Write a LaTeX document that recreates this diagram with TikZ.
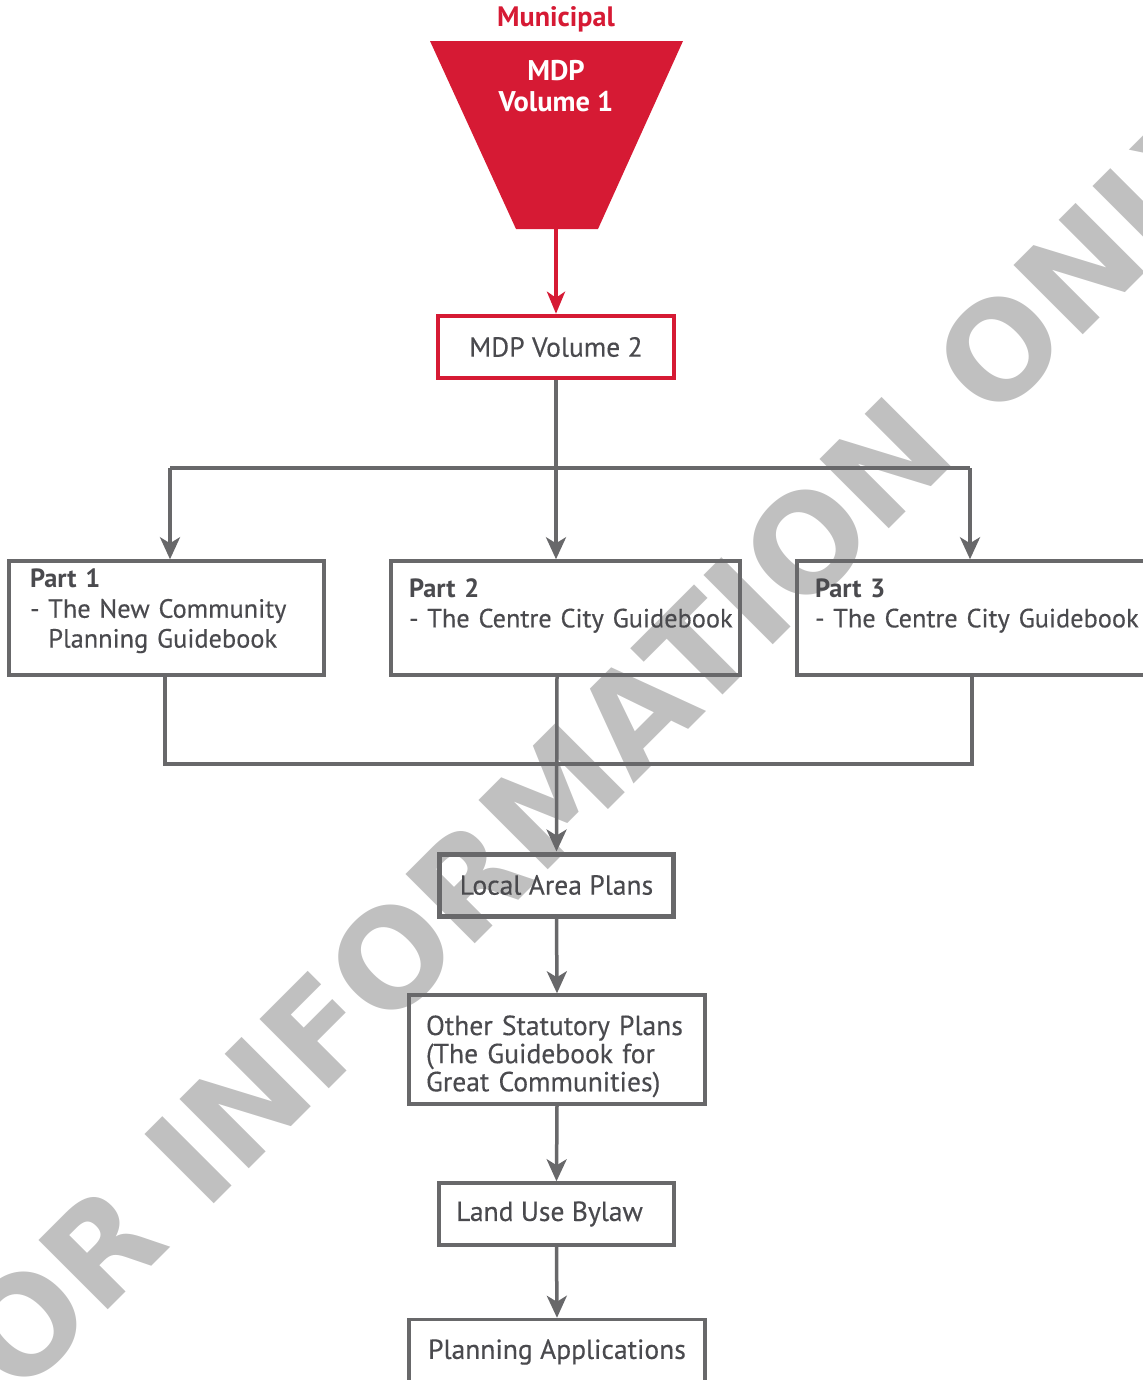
\documentclass[tikz,border=0pt]{standalone}
\usepackage{fontspec}
\setmainfont{PT Sans}[UprightFeatures={FakeBold=0.35}]
\newfontfamily\wmfont{DejaVu Sans}
\usepackage{xcolor}
\usetikzlibrary{arrows.meta,positioning}
\definecolor{mdpred}{RGB}{214,26,52}
\definecolor{linegrey}{RGB}{104,104,106}
\definecolor{textgrey}{RGB}{74,74,78}
\definecolor{wmgrey}{RGB}{192,192,192}

\begin{document}
\begin{tikzpicture}[
    x=0.02cm, y=-0.02cm,
    box/.style={draw=linegrey, line width=0.07cm, text=textgrey, inner sep=0pt, align=center, minimum height=1.24cm, font=\fontsize{15.7}{16}\selectfont},
    partbox/.style={box, minimum height=2.28cm, align=left, font=\fontsize{15}{17}\selectfont},
    redbox/.style={box, draw=mdpred, line width=0.09cm},
    wmark/.style={text=wmgrey, inner sep=0pt, font=\wmfont\bfseries\fontsize{76.5}{80}\selectfont},
    conn/.style={draw=linegrey, line width=0.07cm},
    arrow/.style={conn, -{Stealth[length=0.44cm, width=0.4cm, inset=0.12cm]}},
    redarrow/.style={draw=mdpred, line width=0.08cm, -{Stealth[length=0.44cm, width=0.36cm, inset=0.12cm]}}
]
\clip (0,0) rectangle (1143,1380);

\node[wmark, rotate=45, anchor=base] (watermark) at (611,807) {FOR INFORMATION ONLY};

\node[text=mdpred, font=\bfseries\fontsize{16}{18}\selectfont] (municipal) at (556,19) {Municipal};
\fill[mdpred] (430,41) -- (683,41) -- (598,229) -- (516,229) -- cycle;
\coordinate (vol1tip) at (556,229);
\node[text=white, align=center, font=\bfseries\fontsize{16.2}{18}\selectfont] (vol1) at (556,86) {MDP\\Volume 1};

\node[redbox, minimum width=4.72cm] (vol2) at (556,347) {MDP Volume 2};

\node[partbox, minimum width=6.3cm, text width=5.46cm] (part1) at (166.5,618) {\textbf{Part 1}\\- The New Community\\\hphantom{- }Planning Guidebook\\[-6pt]\mbox{}};
\node[partbox, minimum width=6.98cm, text width=6.26cm] (part2) at (565.5,618) {\textbf{Part 2}\\\mbox{- The Centre City Guidebook}\\\mbox{}};
\node[partbox, minimum width=6.98cm, text width=6.26cm] (part3) at (971.5,618) {\textbf{Part 3}\\\mbox{- The Centre City Guidebook}\\\mbox{}};

\node[box, line width=0.1cm, minimum width=4.7cm] (local) at (556.5,885) {Local Area Plans};
\node[box, minimum width=5.92cm, minimum height=2.18cm, align=left, text width=5.24cm] (other) at (557,1049.5) {\mbox{}\\[3pt]Other Statutory Plans\\(The Guidebook for\\Great Communities)};
\node[box, minimum width=4.7cm] (bylaw) at (556.5,1214) {Land Use Bylaw\hspace*{0.28cm}};
\node[box, minimum width=5.92cm, minimum height=1.3cm] (apps) at (557,1352) {Planning Applications};

\coordinate (busL) at (170,468);
\coordinate (busM) at (556,468);
\coordinate (busR) at (970,468);
\coordinate (lowL) at (165,764);
\coordinate (lowM) at (557,764);
\coordinate (lowR) at (972,764);

\draw[redarrow] (vol1tip) -- (vol2.north);
\draw[conn] (vol2.south) -- (busM);
\draw[conn] (busL) -- (busR);
\draw[arrow] (busL) -- (busL |- part1.north);
\draw[arrow] (busM) -- (busM |- part2.north);
\draw[arrow] (busR) -- (busR |- part3.north);
\draw[conn] (lowL |- part1.south) -- (lowL) -- (lowR) -- (lowR |- part3.south);
\draw[arrow] (lowM |- part2.south) -- (local.north);
\draw[arrow] (local.south) -- (other.north);
\draw[arrow] (other.south) -- (bylaw.north);
\draw[arrow] (bylaw.south) -- (apps.north);
\end{tikzpicture}
\end{document}
